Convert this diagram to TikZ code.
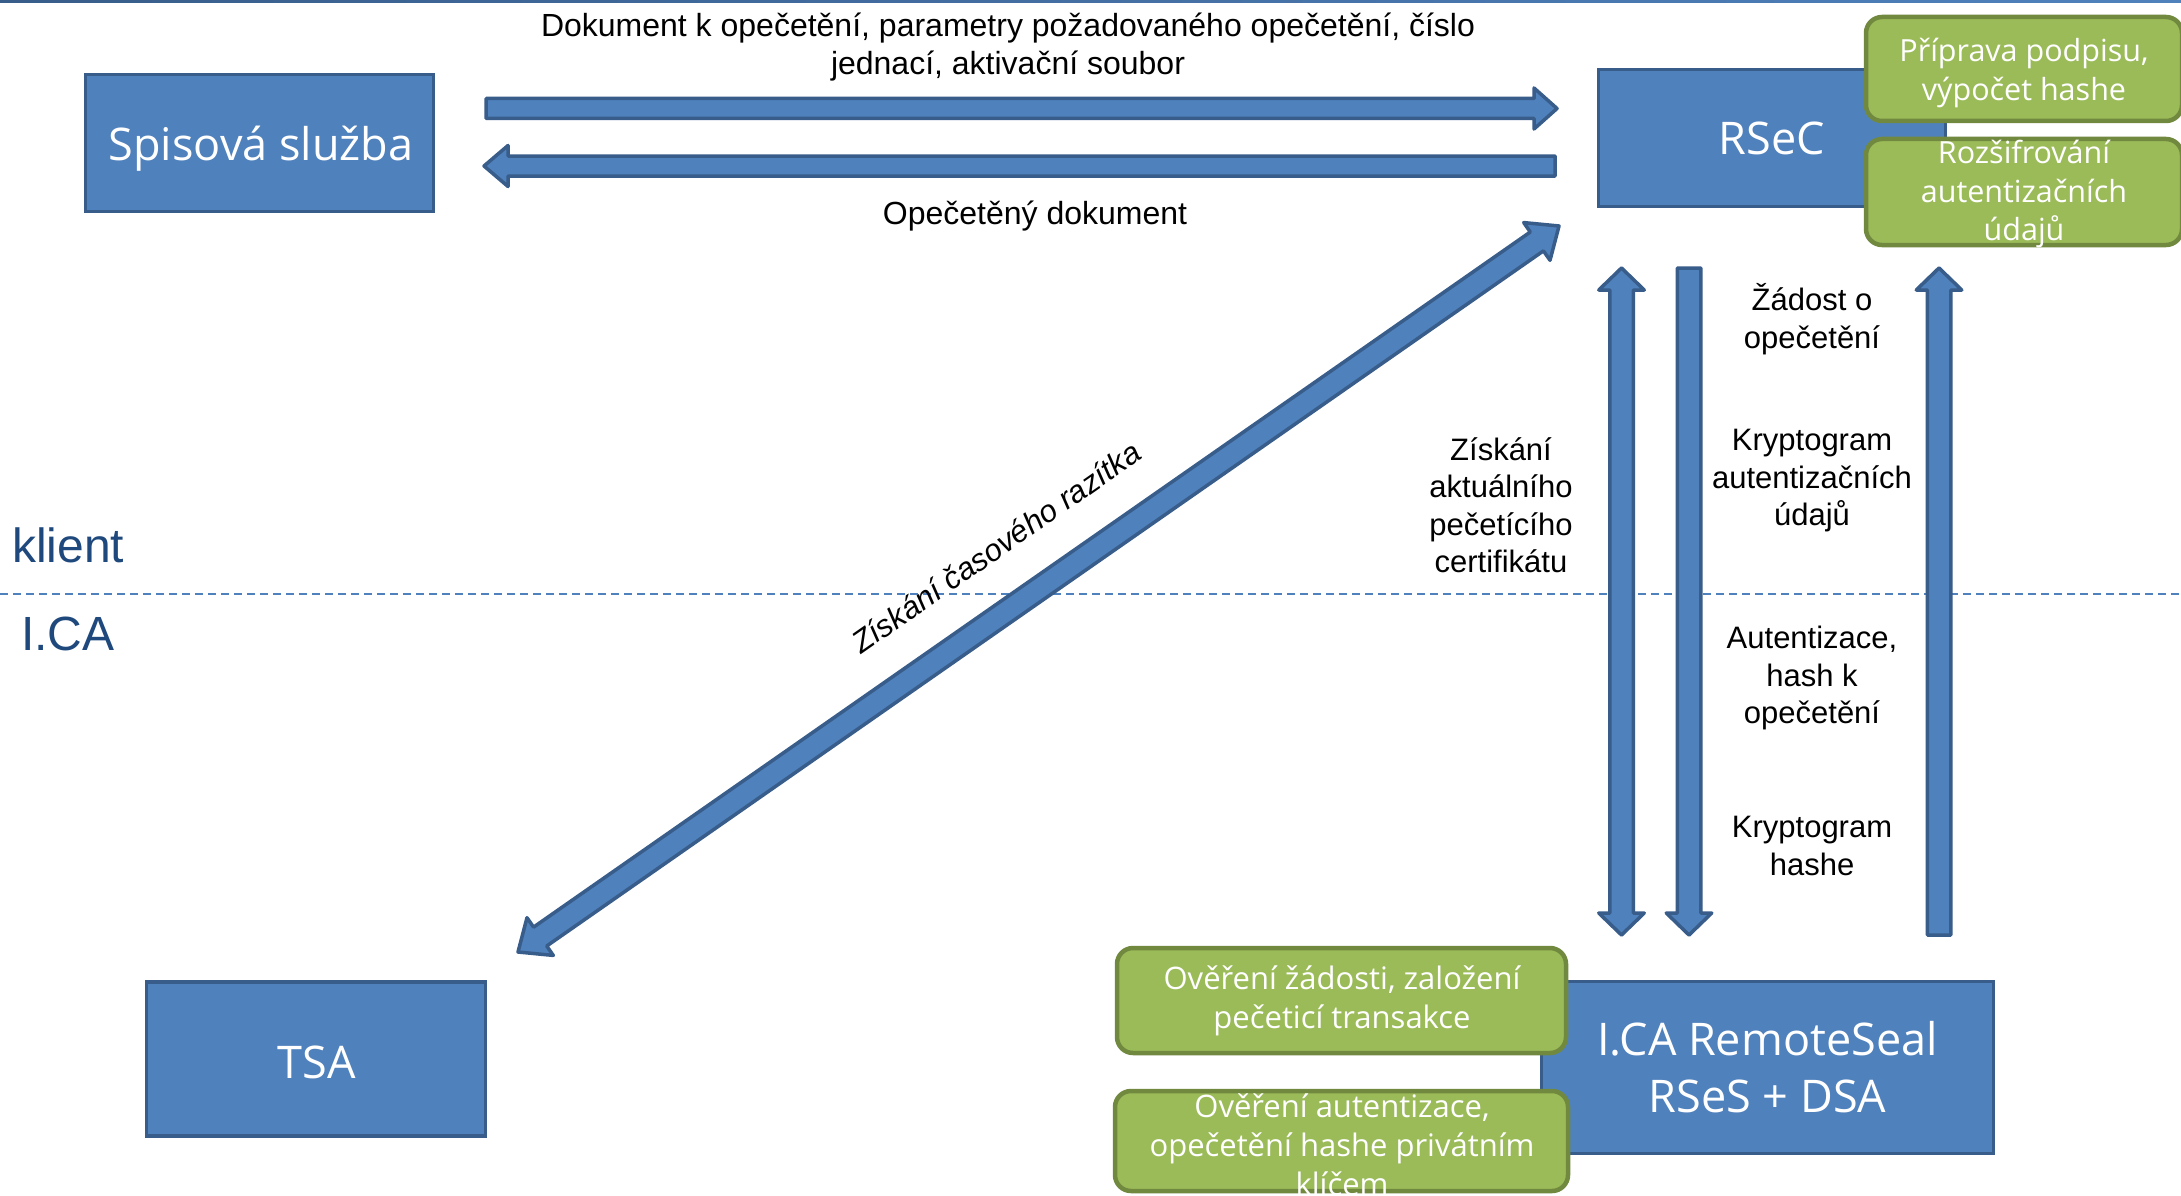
\documentclass[tikz,border=0pt]{standalone}
\usepackage{fontspec}
\setmainfont{Liberation Sans}
\newfontfamily\boxfont{Open Sans}
\usetikzlibrary{calc}
\definecolor{bfill}{HTML}{4F81BD}
\definecolor{bline}{HTML}{385D8A}
\definecolor{gfill}{HTML}{9BBB59}
\definecolor{gline}{HTML}{71893F}
\definecolor{dblue}{HTML}{1F497D}
\tikzset{
 bluebox/.style={draw=bline, fill=bfill, line width=3.5pt, inner sep=0pt, text=white, font=\boxfont\fontsize{45}{57}\selectfont, align=center},
 bluetext/.style={text=white, font=\boxfont\fontsize{45}{57}\selectfont, align=center, inner sep=0pt},
 greenbox/.style={draw=gline, fill=gfill, line width=4.5pt, rounded corners=16pt, inner sep=0pt},
 greentext/.style={text=white, font=\boxfont\fontsize{30.5}{38.5}\selectfont, align=center, inner sep=0pt},
 lbl/.style={font=\fontsize{31}{37.5}\selectfont, align=center, inner sep=0pt},
 toplbl/.style={font=\fontsize{32}{38}\selectfont, align=center, inner sep=0pt},
 barrow/.style={draw=bline, fill=bfill, line width=3.5pt, line join=round},
 lane/.style={text=dblue, font=\fontsize{48}{56}\selectfont, inner sep=0pt},
}
% single-headed block arrow: start, tip, shaft half width, head half width, head length
\newcommand\arrowone[5]{%
  \coordinate (hb) at ($(#2)!#5!(#1)$);
  \draw[barrow] ($(#1)!#3!90:(#2)$) -- ($(hb)!#3!90:(#2)$) -- ($(hb)!#4!90:(#2)$) -- (#2)
     -- ($(hb)!#4!-90:(#2)$) -- ($(hb)!#3!-90:(#2)$) -- ($(#1)!#3!-90:(#2)$) -- cycle;}
% double-headed block arrow
\newcommand\arrowtwo[5]{%
  \coordinate (ha) at ($(#1)!#5!(#2)$);
  \coordinate (hb) at ($(#2)!#5!(#1)$);
  \draw[barrow] (#1) -- ($(ha)!#4!90:(#2)$) -- ($(ha)!#3!90:(#2)$) -- ($(hb)!#3!90:(#2)$) -- ($(hb)!#4!90:(#2)$) -- (#2)
     -- ($(hb)!#4!-90:(#2)$) -- ($(hb)!#3!-90:(#2)$) -- ($(ha)!#3!-90:(#2)$) -- ($(ha)!#4!-90:(#2)$) -- cycle;}
\begin{document}
\begin{tikzpicture}[x=1pt,y=-1pt]
\useasboundingbox (0,0) rectangle (2181,1196);
\clip (0,0) rectangle (2181,1196);
\fill[white] (0,0) rectangle (2181,1196);
\shade[left color=bline, right color=bfill] (0,0) rectangle (2181,3);
% lane separator
\draw[bfill, line width=2.5pt, dash pattern=on 8pt off 5pt] (0,594) -- (2181,594);
% blue boxes
\node[bluebox, minimum width=348pt, minimum height=137pt] (spis) at (259.5,143) {};
\node[bluetext] (spist) at (261,148.5) {Spisová služba};
\node[bluebox, minimum width=347pt, minimum height=137pt] (rsec) at (1772,138) {RSeC};
\node[bluebox, minimum width=339pt, minimum height=154pt] (tsa) at (316,1059) {};
\node[bluetext] (tsat) at (317,1062) {TSA};
\node[bluebox, minimum width=452pt, minimum height=172pt] (ica) at (1767.5,1067.5) {I.CA RemoteSeal\\RSeS + DSA};
% green boxes
\node[greenbox, minimum width=316pt, minimum height=104pt] (g1) at (2024,69) {};
\node[greentext] (g1t) at (2024,73) {Příprava podpisu,\\výpočet hashe};
\node[greenbox, minimum width=316pt, minimum height=106pt] (g2) at (2024,192) {};
\node[greentext] (g2t) at (2024,194) {Rozšifrování\\autentizačních\\údajů};
\node[greenbox, minimum width=449pt, minimum height=105pt] (g3) at (1341.5,1000.5) {};
\node[greentext, font=\boxfont\fontsize{31}{39}\selectfont] (g3t) at (1342,1001) {Ověření žádosti, založení\\pečeticí transakce};
\node[greenbox, minimum width=453pt, minimum height=100pt] (g4) at (1341.5,1141) {};
\node[greentext, font=\boxfont\fontsize{31}{39}\selectfont] (g4t) at (1342,1145) {Ověření autentizace,\\opečetění hashe privátním\\klíčem};
% arrow end points
\coordinate (a1s) at (486,108.5); \coordinate (a1e) at (1557,108.5);
\coordinate (a2s) at (1555,166);  \coordinate (a2e) at (484,166);
\coordinate (ds) at (518,952);    \coordinate (de) at (1559,226);
\coordinate (v1s) at (1621.5,268); \coordinate (v1e) at (1621.5,935);
\coordinate (v2s) at (1689,268);   \coordinate (v2e) at (1689,935);
\coordinate (v3s) at (1939,935);   \coordinate (v3e) at (1939,268);
\arrowone{a1s}{a1e}{10pt}{20.5pt}{23pt}
\arrowone{a2s}{a2e}{10pt}{20.5pt}{24pt}
\arrowtwo{ds}{de}{11.5pt}{23pt}{27pt}
\arrowtwo{v1s}{v1e}{11.75pt}{22.75pt}{22pt}
\arrowone{v2s}{v2e}{11.75pt}{22.75pt}{22pt}
\arrowone{v3s}{v3e}{11.75pt}{22.75pt}{22pt}
% labels
\node[toplbl] (ltop) at (1008,47) {Dokument k opečetění, parametry požadovaného opečetění, číslo\\jednací, aktivační soubor};
\node[toplbl] (lop) at (1035,216) {Opečetěný dokument};
\node[lbl] (lcert) at (1501,505) {Získání\\aktuálního\\pečetícího\\certifikátu};
\node[lbl] (l1) at (1812,319) {Žádost o\\opečetění};
\node[lbl] (l2) at (1812,481) {Kryptogram\\autentizačních\\údajů};
\node[lbl] (l3) at (1812,678) {Autentizace,\\hash k\\opečetění};
\node[lbl] (l4) at (1812,846) {Kryptogram\\hashe};
\node[lbl, font=\itshape\fontsize{31}{37.5}\selectfont, rotate=34.9] (lts) at (996,547) {Získání časového razítka};
\node[lane, anchor=base west] (klient) at (12,562) {klient};
\node[lane, anchor=base west] (icalbl) at (21,650) {I.CA};
\end{tikzpicture}
\end{document}
